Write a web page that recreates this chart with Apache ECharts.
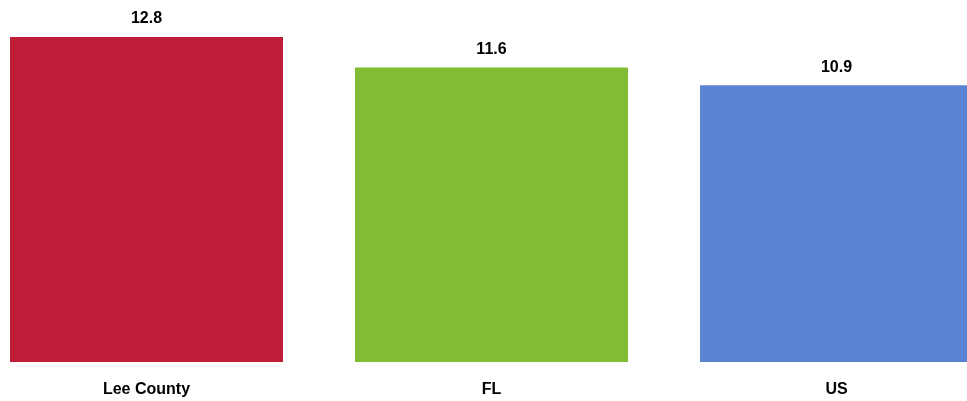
<!DOCTYPE html>
<html><head><meta charset="utf-8">
<script src="https://cdn.jsdelivr.net/npm/echarts@6/dist/echarts.min.js"></script>
<style>html,body{margin:0;padding:0;background:#fff;overflow:hidden;width:967px;height:401px}#c{position:absolute;left:-26px;top:0;width:1035px;height:401px}</style>
</head><body><div id="c"></div>
<script>
const categories = ['Lee County', 'FL', 'US'];
const values = [12.8, 11.6, 10.9];
const barColors = ['#BE1E37', '#80BD33', '#5B84D5'];

const chart = echarts.init(document.getElementById('c'), null, {renderer: 'canvas'});
const font = 'Liberation Sans, Arial, sans-serif';
chart.setOption({
  animation: false,
  grid: {left: 0, right: 0, top: 6.5, bottom: 39, containLabel: false},
  xAxis: {
    type: 'category', data: categories,
    axisLine: {show: false}, axisTick: {show: false},
    axisLabel: {margin: 20, color: '#000', fontWeight: 'bold', fontSize: 16, fontFamily: font}
  },
  yAxis: {type: 'value', min: 0, max: 14, show: false, splitLine: {show: false}},
  series: [{
    type: 'bar', barWidth: 273,
    data: values.map((v, i) => ({value: v, itemStyle: {color: barColors[i]}})),
    label: {show: true, position: 'top', distance: 10, color: '#000', fontWeight: 'bold', fontSize: 16, fontFamily: font, formatter: p => p.value.toFixed(1)}
  }]
});
</script></body></html>
